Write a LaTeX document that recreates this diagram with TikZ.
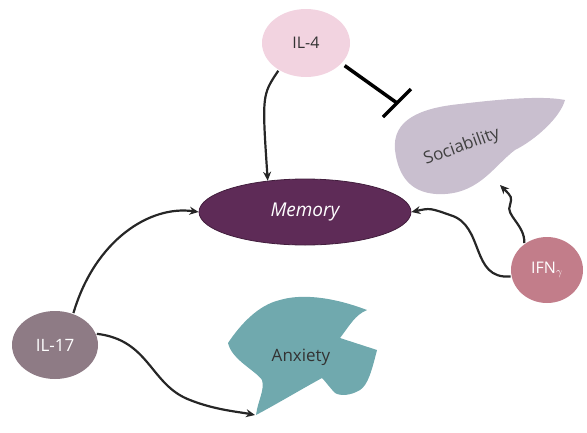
\documentclass[tikz,border=0pt]{standalone}
\usepackage{fontspec}
\setmainfont{Open Sans}
\usetikzlibrary{shapes.geometric, arrows.meta}

\definecolor{ilfour}{HTML}{F2D3E0}
\definecolor{memcol}{HTML}{5E2B57}
\definecolor{ilseventeen}{HTML}{8E7B85}
\definecolor{ifncol}{HTML}{C27D8A}
\definecolor{sociocol}{HTML}{C9BFCF}
\definecolor{anxcol}{HTML}{70A9AE}

\begin{document}
\begin{tikzpicture}[
    x=1pt, y=-1pt, >={Stealth[length=9pt, width=8pt]}, line width=2.2pt,
    cell/.style={ellipse, inner sep=0pt, font=\fontsize{16}{18}\selectfont},
    link/.style={->, draw=black!85}
]
    \useasboundingbox (0,0) rectangle (587,432);

    % cytokines and brain functions
    \node[cell, fill=ilfour, minimum width=88pt, minimum height=68pt, text=black!80] (il4) at (306,43) {IL-4};
    \node[cell, fill=memcol, draw=memcol!70!black, line width=0.8pt, minimum width=212pt, minimum height=66pt, text=white, font=\fontsize{19}{21}\selectfont\itshape] (mem) at (305,212) {Memory};
    \node[cell, fill=ilseventeen, minimum width=86pt, minimum height=68pt, text=white, font=\fontsize{17}{19}\selectfont] (il17) at (55,345) {IL-17};
    \node[cell, fill=ifncol, minimum width=72pt, minimum height=66pt, text=white] (ifn) at (547,270) {IFN$_\gamma$};

    % sociability blob
    \fill[sociocol] (395,150) .. controls (392,120) and (420,108) .. (460,104)
        .. controls (510,98) and (545,96) .. (565,100)
        .. controls (560,118) and (535,140) .. (515,150)
        .. controls (495,165) and (480,192) .. (445,194)
        .. controls (410,196) and (398,175) .. (395,150) -- cycle;
    \node[rotate=20, text=black!75, font=\fontsize{17}{19}\selectfont] (socio) at (462,147) {Sociability};
    \coordinate (sociobot) at (500,185);

    % anxiety blob
    \fill[anxcol] (228,343) .. controls (240,325) and (258,305) .. (280,300)
        .. controls (300,294) and (330,296) .. (367,310)
        .. controls (355,315) and (350,325) .. (340,338)
        -- (377,350)
        .. controls (372,370) and (368,385) .. (360,390)
        .. controls (350,396) and (340,396) .. (335,393)
        .. controls (330,388) and (326,382) .. (322,378)
        .. controls (300,390) and (275,405) .. (256,415)
        .. controls (258,400) and (265,390) .. (262,380)
        .. controls (255,370) and (232,360) .. (228,343) -- cycle;
    \node[text=black!80, font=\fontsize{17}{19}\selectfont] (anx) at (301,357) {Anxiety};
    \coordinate (anxbot) at (255,415);

    % connectors
    \draw[link] (il4.225) .. controls (262,95) .. (mem.140);
    \draw[link] (il17.60) .. controls (95,240) and (150,205) .. (mem.180);
    \draw[->, draw=black!85] (il17.15) .. controls (150,340) and (150,385) .. (190,400)
        .. controls (215,410) and (240,412) .. (anxbot);
    \draw[link] (ifn.190) .. controls (470,280) and (485,225) .. (450,215)
        .. controls (430,208) .. (mem.0);
    \draw[link] (ifn.130) .. controls (525,225) and (505,215) .. (510,205)
        .. controls (512,197) .. (sociobot);
    \coordinate (bar) at (397,103);
    \draw[line width=3.5pt, shorten <=3pt] (il4.-30) -- (bar);
    \draw[line width=3.5pt] (383,117) -- (411,89);
\end{tikzpicture}
\end{document}
